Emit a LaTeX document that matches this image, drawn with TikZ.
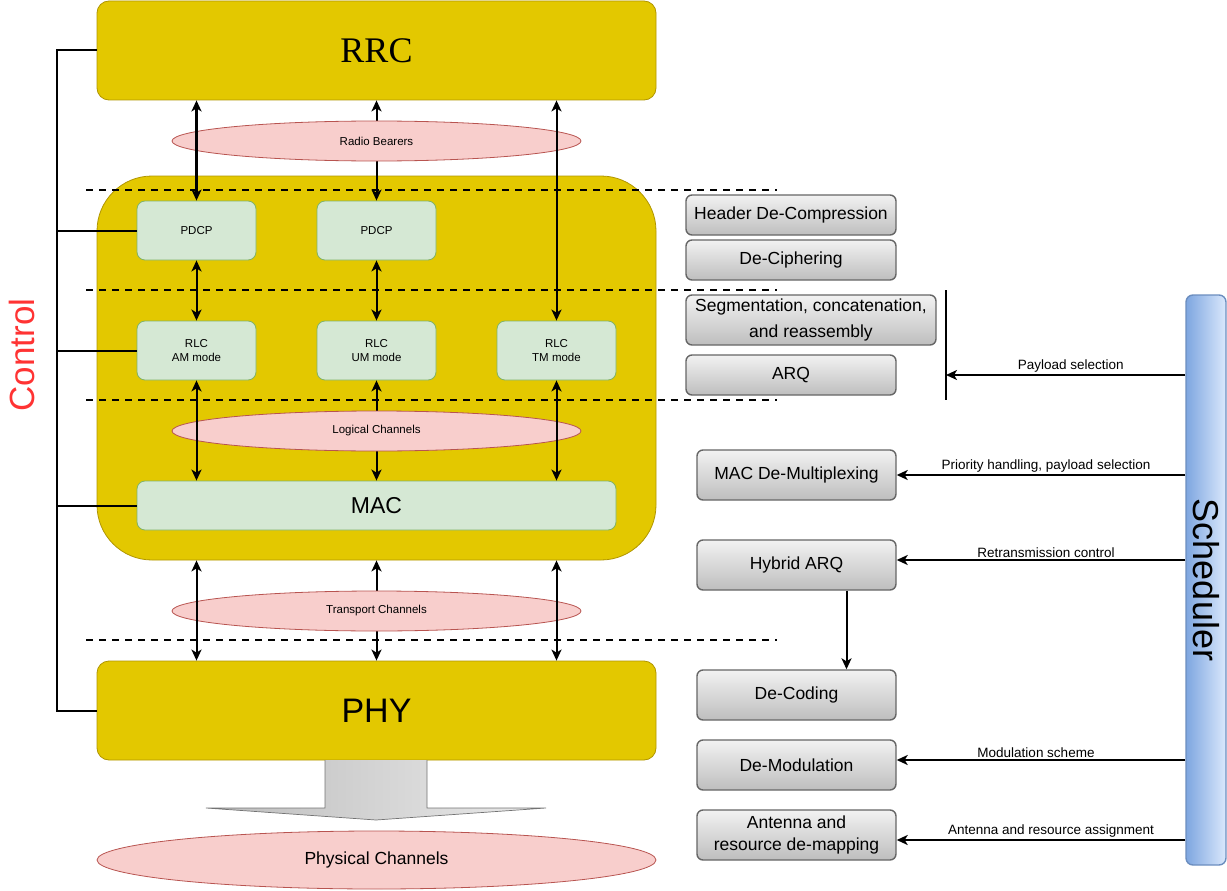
\documentclass[tikz,border=0pt]{standalone}
\usepackage{fontspec}
\setmainfont{Liberation Sans}
\newfontfamily\rrcserif{Liberation Serif}
\usetikzlibrary{arrows.meta,shapes.geometric,calc}
\definecolor{yfill}{HTML}{E3C800}
\definecolor{ydraw}{HTML}{B09500}
\definecolor{gfill}{HTML}{D5E8D4}
\definecolor{gdraw}{HTML}{82B366}
\definecolor{rfill}{HTML}{F8CECC}
\definecolor{rdraw}{HTML}{B85450}
\definecolor{bleft}{HTML}{7EA6E0}
\definecolor{bright}{HTML}{DAE8FC}
\definecolor{bdraw}{HTML}{6C8EBF}
\definecolor{ctrlred}{HTML}{FF3333}
\definecolor{grtop}{HTML}{F2F2F2}
\definecolor{grbot}{HTML}{BEBEBE}
\definecolor{grdraw}{HTML}{666666}
\tikzset{
  tip/.tip={Stealth[length=11pt,width=10pt,inset=3pt]},
  layerbox/.style={rectangle, rounded corners=12pt, fill=yfill, draw=ydraw, line width=0.8pt, inner sep=0pt},
  greenbox/.style={rectangle, rounded corners=8pt, fill=gfill, draw=gdraw, line width=0.8pt, inner sep=0pt, align=center, font=\fontsize{11.5}{14}\selectfont},
  chan/.style={ellipse, fill=rfill, draw=rdraw, line width=0.8pt, inner sep=0pt, font=\fontsize{11.5}{14}\selectfont},
  graybox/.style={rectangle, rounded corners=6pt, top color=grtop, bottom color=grbot, draw=grdraw, line width=1.4pt, inner sep=0pt, align=center, font=\fontsize{17.5}{22}\selectfont},
  barr/.style={tip-tip, line width=2pt},
  sarr/.style={-tip, line width=2pt},
  ctl/.style={line width=2pt},
  dsh/.style={line width=2pt, dash pattern=on 7pt off 6pt},
  lbl/.style={font=\fontsize{13.5}{16}\selectfont, inner sep=1.5pt},
}
\begin{document}
\begin{tikzpicture}[x=1pt,y=-1pt]
\useasboundingbox (0,0) rectangle (1227,891);
% layer blocks
\node[layerbox, minimum width=559pt, minimum height=99pt, font=\rrcserif\fontsize{36}{40}\selectfont] (rrc) at (376.5,50.5) {RRC};
\node[rectangle, rounded corners=55pt, fill=yfill, draw=ydraw, line width=0.8pt, minimum width=559pt, minimum height=384pt] (cont) at (376.5,368) {};
\node[layerbox, minimum width=559pt, minimum height=99pt, font=\fontsize{34}{40}\selectfont] (phy) at (376.5,710.5) {PHY};
% dashed separators
\draw[dsh] (86,190) -- (777,190);
\draw[dsh] (86,290) -- (777,290);
\draw[dsh] (86,400) -- (777,400);
\draw[dsh] (86,640) -- (777,640);
% green boxes
\node[greenbox, minimum width=119pt, minimum height=59pt] (pdcp1) at (196.5,230.5) {PDCP};
\node[greenbox, minimum width=119pt, minimum height=59pt] (pdcp2) at (376.5,230.5) {PDCP};
\node[greenbox, minimum width=119pt, minimum height=59pt] (am) at (196.5,350.5) {RLC\\AM mode};
\node[greenbox, minimum width=119pt, minimum height=59pt] (um) at (376.5,350.5) {RLC\\UM mode};
\node[greenbox, minimum width=119pt, minimum height=59pt] (tm) at (556.5,350.5) {RLC\\TM mode};
\node[greenbox, minimum width=479pt, minimum height=49pt, font=\fontsize{23}{26}\selectfont] (mac) at (376.5,505.5) {MAC};
% middle arrows (behind channels)
\draw[barr] (rrc.south -| pdcp2.north) -- (pdcp2.north);
\draw[barr] (um.south) -- (mac.north -| um.south);
\draw[barr] (cont.south -| um.south) -- (phy.north -| um.south);
% channels
\node[chan, minimum width=409pt, minimum height=40pt] (rb) at (376.5,141) {Radio Bearers};
\node[chan, minimum width=409pt, minimum height=40pt] (lc) at (376.5,431) {Logical Channels};
\node[chan, minimum width=409pt, minimum height=40pt] (tc) at (376.5,611) {Transport Channels};
% left / right arrows
\draw[barr, line width=2.8pt] (rrc.south -| pdcp1.north) -- (pdcp1.north);
\draw[barr] (rrc.south -| tm.north) -- (tm.north);
\draw[barr] (pdcp1.south) -- (am.north);
\draw[barr] (pdcp2.south) -- (um.north);
\draw[barr] (am.south) -- (mac.north -| am.south);
\draw[barr] (tm.south) -- (mac.north -| tm.south);
\draw[barr] (cont.south -| am.south) -- (phy.north -| am.south);
\draw[barr] (cont.south -| tm.south) -- (phy.north -| tm.south);
% control bracket
\coordinate (cbar) at (57,0);
\draw[ctl] (rrc.west) -- (cbar |- rrc.west) -- (cbar |- phy.west) -- (phy.west);
\draw[ctl] (cbar |- pdcp1.west) -- (pdcp1.west);
\draw[ctl] (cbar |- am.west) -- (am.west);
\draw[ctl] (cbar |- mac.west) -- (mac.west);
\node[rotate=90, text=ctrlred, font=\fontsize{35}{40}\selectfont, inner sep=0pt] (ctrl) at (22,355) {Control};
% big arrow to physical channels
\shade[left color=black!26, right color=black!8] (325,760) -- (325,808) -- (206,808) -- (376,820) -- (546,808) -- (427,808) -- (427,760) -- cycle;
\draw[black!55, line width=0.7pt] (325,760) -- (325,808) -- (206,808) -- (376,820) -- (546,808) -- (427,808) -- (427,760);
\node[chan, minimum width=559pt, minimum height=58pt, font=\fontsize{17.5}{20}\selectfont] (pc) at (376.5,860) {Physical Channels};
% gray function boxes
\node[graybox, minimum width=210pt, minimum height=40pt] (hdc) at (791,215) {Header De-Compression};
\node[graybox, minimum width=210pt, minimum height=40pt] (dcp) at (791,260) {De-Ciphering};
\node[graybox, minimum width=250pt, minimum height=50pt, font=\fontsize{17.5}{26}\selectfont] (seg) at (811,320) {Segmentation, concatenation,\\and reassembly};
\node[graybox, minimum width=210pt, minimum height=40pt] (arq) at (791,375) {ARQ};
\node[graybox, minimum width=199pt, minimum height=50pt] (mdm) at (796.5,475) {MAC De-Multiplexing};
\node[graybox, minimum width=199pt, minimum height=50pt] (harq) at (796.5,565) {Hybrid ARQ};
\node[graybox, minimum width=199pt, minimum height=50pt] (dco) at (796.5,695) {De-Coding};
\node[graybox, minimum width=199pt, minimum height=50pt] (dmod) at (796.5,765) {De-Modulation};
\node[graybox, minimum width=199pt, minimum height=50pt] (ant) at (796.5,835) {Antenna and\\resource de-mapping};
\draw[sarr] ([xshift=50pt]harq.south) -- ([xshift=50pt]dco.north);
% scheduler
\node[rectangle, rounded corners=7pt, left color=bleft, right color=bright, draw=bdraw, line width=1.4pt, minimum width=40pt, minimum height=570pt, inner sep=0pt] (sch) at (1206,580) {};
\node[rotate=-90, font=\fontsize{36}{40}\selectfont, inner sep=0pt] (schl) at (1206,580) {Scheduler};
% RLC bracket
\coordinate (vt) at (946,290);
\coordinate (vb) at (946,400);
\draw[ctl] (vt) -- (vb);
% scheduler control arrows
\draw[sarr] (sch.west |- arq.east) -- (vt |- arq.east) node[lbl, midway, above, xshift=5pt] {Payload selection};
\draw[sarr] (sch.west |- mdm.east) -- (mdm.east) node[lbl, midway, above, xshift=5pt] {Priority handling, payload selection};
\coordinate (harqa) at ([yshift=5pt]harq.east);
\draw[sarr] (sch.west |- harqa) -- (harqa) node[lbl, midway, above, xshift=5pt] {Retransmission control};
\coordinate (dmoda) at ([yshift=5pt]dmod.east);
\draw[sarr] (sch.west |- dmoda) -- (dmoda) node[lbl, midway, above, xshift=-5pt] {Modulation scheme};
\coordinate (anta) at ([yshift=-5pt]ant.east);
\draw[sarr] (sch.west |- anta) -- (anta) node[lbl, midway, above, xshift=10pt] {Antenna and resource assignment};
\end{tikzpicture}
\end{document}
